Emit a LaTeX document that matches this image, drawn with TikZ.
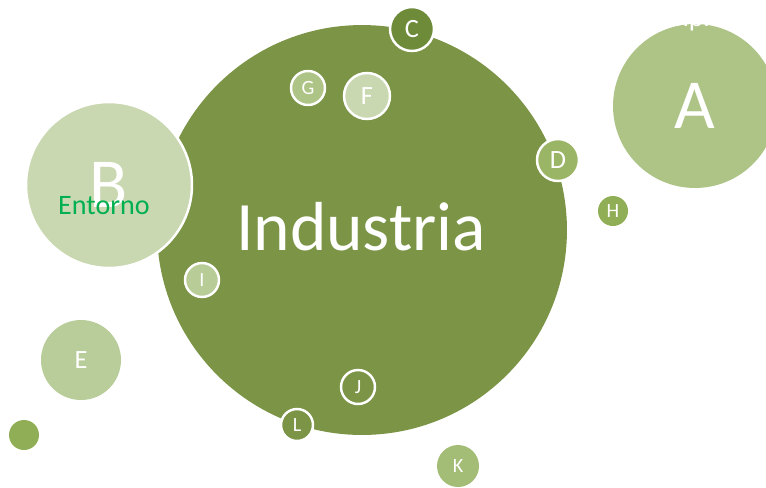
\documentclass[tikz,border=0pt]{standalone}
\usepackage{fontspec}
\setmainfont{Carlito}
\usepackage{xcolor}
\usetikzlibrary{positioning}
\definecolor{olive}{HTML}{7B9446}
\definecolor{oliveA}{HTML}{ADC486}
\definecolor{oliveB}{HTML}{C9D8B0}
\definecolor{oliveC}{HTML}{6E8B3A}
\definecolor{oliveD}{HTML}{9BB567}
\definecolor{oliveE}{HTML}{B9CD9B}
\definecolor{oliveH}{HTML}{8FAE55}
\definecolor{oliveI}{HTML}{B8CC98}
\definecolor{oliveK}{HTML}{A3BD76}
\definecolor{entorno}{HTML}{00B050}

\begin{document}
\begin{tikzpicture}[
		x=0.02cm, y=-0.02cm,
		bubble/.style={circle, inner sep=0pt, text=white},
		ring/.style={bubble, draw=white, line width=1.4pt},
		small/.style={font=\fontsize{15}{15}\selectfont},
		tiny/.style={font=\fontsize{11.5}{11.5}\selectfont},
		big/.style={font=\fontsize{40}{40}\selectfont}
		]
	
		\useasboundingbox (0,0) rectangle (766,487);
	
		% burbujas grandes
		\node[bubble, fill=olive, minimum size=8.2cm] (Ind) at (362,230) {};
		\node[text=white, font=\fontsize{39.5}{39.5}\selectfont] (IndTxt) at (361,227) {Industria};
		\node[bubble, fill=oliveA, minimum size=3.28cm, big] (A) at (695,106) {A};
		\node[ring, fill=oliveB, minimum size=3.32cm, big] (B) at (109,185) {B};
		\node[text=white, font=\fontsize{16}{16}\selectfont] (Emp) at (702,20) {Empresa};
		\node[text=entorno, font=\fontsize{16}{16}\selectfont] (Ent) at (104,206) {Entorno};
	
		% burbujas pequeñas
		\node[ring, fill=oliveC, minimum size=0.88cm, small] (C) at (412,29) {C};
		\node[ring, fill=oliveD, minimum size=0.84cm, small] (D) at (558,160) {D};
		\node[bubble, fill=oliveE, minimum size=1.6cm, small] (E) at (81,360) {E};
		\node[ring, fill=oliveB, minimum size=0.92cm, small] (F) at (367,96) {F};
		\node[ring, fill=oliveA, minimum size=0.68cm, tiny] (G) at (308,88) {G};
		\node[bubble, fill=oliveH, minimum size=0.6cm, tiny] (H) at (613,211) {H};
		\node[ring, fill=oliveI, minimum size=0.68cm, tiny] (I) at (202,280) {I};
		\node[ring, fill=olive, minimum size=0.68cm, tiny] (J) at (358,387) {J};
		\node[bubble, fill=oliveK, minimum size=0.84cm, tiny] (K) at (458,466) {K};
		\node[ring, fill=olive, minimum size=0.64cm, tiny] (L) at (297,425) {L};
		\node[bubble, fill=oliveH, minimum size=0.6cm] (dot) at (24,435) {};
	\end{tikzpicture}
\end{document}
